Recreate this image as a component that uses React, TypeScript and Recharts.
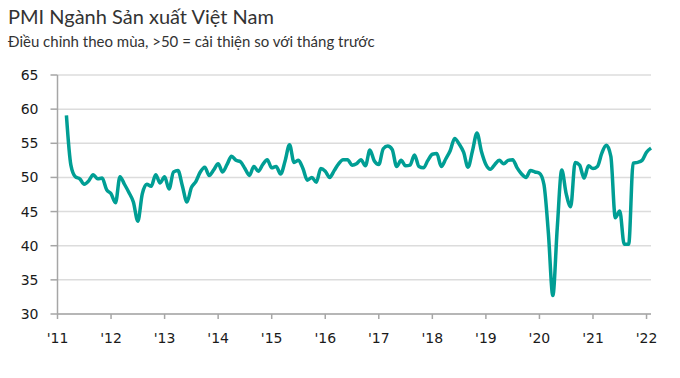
import { LineChart, Line, XAxis, YAxis, CartesianGrid } from 'recharts';

// Vietnam manufacturing PMI, monthly, Jan 2011 - Feb 2022 (series starts Mar 2011)
const years = ["'11", "'12", "'13", "'14", "'15", "'16", "'17", "'18", "'19", "'20", "'21", "'22"];

const pmi2011 = [null, null, 59.1, 51.8, 50.1, 49.8, 49.0, 49.5, 50.4, 49.8, 49.9, 48.2];
const pmi2012 = [47.6, 46.3, 50.1, 49.0, 47.8, 46.4, 43.6, 47.6, 49.0, 48.7, 50.4, 49.2];
const pmi2013 = [50.1, 48.3, 50.8, 51.0, 48.7, 46.4, 48.5, 49.4, 50.8, 51.5, 50.3, 51.1];
const pmi2014 = [52.0, 50.8, 51.9, 53.1, 52.5, 52.3, 51.3, 50.3, 51.6, 50.9, 51.9, 52.6];
const pmi2015 = [51.4, 51.6, 50.5, 52.4, 54.8, 52.2, 52.5, 51.3, 49.6, 50.0, 49.3, 51.3];
const pmi2016 = [50.9, 50.0, 51.0, 52.0, 52.6, 52.6, 51.8, 52.0, 52.6, 51.7, 54.0, 52.4];
const pmi2017 = [51.9, 54.2, 54.6, 54.1, 51.6, 52.5, 51.7, 51.8, 53.3, 51.6, 51.4, 52.5];
const pmi2018 = [53.4, 53.5, 51.6, 52.7, 53.9, 55.7, 54.9, 53.7, 51.5, 53.9, 56.5, 53.8];
const pmi2019 = [51.9, 51.2, 51.9, 52.5, 52.0, 52.5, 52.6, 51.4, 50.5, 50.0, 51.0, 50.8];
const pmi2020 = [50.6, 49.0, 41.9, 32.7, 42.7, 51.1, 47.6, 45.7, 52.2, 51.8, 49.9, 51.7];
const pmi2021 = [51.3, 51.6, 53.6, 54.7, 53.1, 44.1, 45.1, 40.2, 40.2, 52.1, 52.2, 52.5];
const pmi2022 = [53.7, 54.3];

const yTicks = [30, 35, 40, 45, 50, 55, 60, 65];

const allValues = [
  ...pmi2011, ...pmi2012, ...pmi2013, ...pmi2014, ...pmi2015, ...pmi2016,
  ...pmi2017, ...pmi2018, ...pmi2019, ...pmi2020, ...pmi2021, ...pmi2022,
];

const data = allValues.map((v, i) => ({ m: i, pmi: v }));
const xTicks = years.map((_, i) => i * 12);

const tickFont = { fontFamily: 'DejaVu Sans', fontSize: 14, fill: '#1a1a1a' };

export default function App() {
  return (
    <div
      style={{
        position: 'absolute',
        left: 0,
        top: 0,
        width: 680,
        height: 378,
        background: '#fff',
        fontFamily: 'Lato, sans-serif',
      }}
    >
      <div style={{ position: 'absolute', left: 8, top: 4, fontSize: 20, color: '#333' }}>
        PMI Ngành Sản xuất Việt Nam
      </div>
      <div style={{ position: 'absolute', left: 8, top: 32, fontSize: 15, color: '#333' }}>
        Điều chỉnh theo mùa, &gt;50 = cải thiện so với tháng trước
      </div>
      <LineChart
        width={680}
        height={378}
        data={data}
        margin={{ top: 75, right: 29, bottom: 34, left: 0 }}
      >
        <CartesianGrid vertical={false} stroke="#dcdcdc" strokeWidth={1.5} />
        <XAxis
          dataKey="m"
          type="number"
          domain={[0, 133]}
          ticks={xTicks}
          tickFormatter={(v) => years[v / 12]}
          tick={tickFont}
          tickSize={5}
          tickMargin={14}
          height={30}
          stroke="#a6a6a6"
          strokeWidth={1.5}
          interval={0}
        />
        <YAxis
          domain={[30, 65]}
          ticks={yTicks}
          tick={tickFont}
          tickSize={7}
          tickMargin={12}
          width={57.5}
          stroke="#a6a6a6"
          strokeWidth={1.5}
          interval={0}
        />
        <Line
          dataKey="pmi"
          type="monotone"
          stroke="#009e94"
          strokeWidth={3.5}
          dot={false}
          connectNulls={false}
          isAnimationActive={false}
        />
      </LineChart>
    </div>
  );
}
